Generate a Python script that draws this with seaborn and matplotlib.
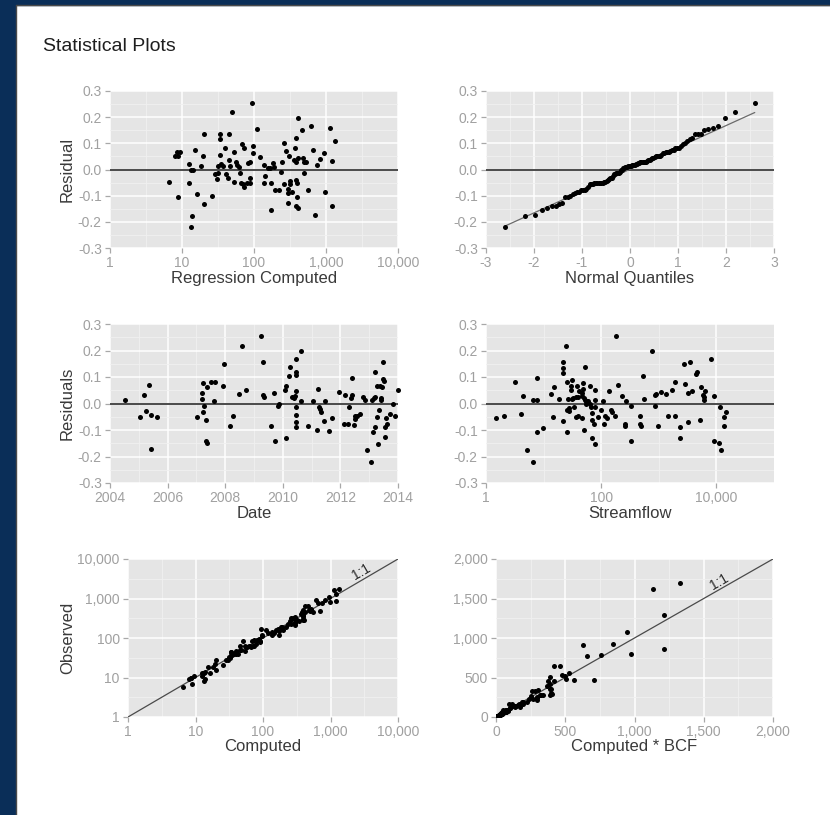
import numpy as np
import pandas as pd
import matplotlib
matplotlib.use("Agg")
import matplotlib.pyplot as plt
import seaborn as sns
from matplotlib.ticker import FixedLocator, FixedFormatter, NullFormatter
from matplotlib.patches import Rectangle
from matplotlib.lines import Line2D
from statistics import NormalDist

# ---------------- data ----------------
# Panel 1: log10(regression computed) and residuals
computed_log10 = [
    0.815, 0.907, 0.94, 0.93, 0.977, 0.944, 1.093, 1.093, 1.125, 1.148,
    1.139, 1.12, 1.185, 1.208, 1.264, 1.292, 1.31, 1.31, 1.412, 1.458,
    1.486, 1.505, 1.523, 1.523, 1.523, 1.495, 1.546, 1.569, 1.597, 1.606,
    1.634, 1.657, 1.657, 1.671, 1.699, 1.727, 1.727, 1.75, 1.764, 1.787,
    1.801, 1.819, 1.833, 1.847, 1.866, 1.866, 1.903, 1.917, 1.94, 1.949,
    1.949, 1.977, 1.986, 1.986, 2.046, 2.079, 2.134, 2.157, 2.134, 2.19,
    2.218, 2.236, 2.236, 2.264, 2.282, 2.292, 2.347, 2.375, 2.394, 2.412,
    2.417, 2.44, 2.468, 2.468, 2.481, 2.495, 2.505, 2.468, 2.528, 2.56,
    2.574, 2.588, 2.616, 2.588, 2.588, 2.597, 2.597, 2.588, 2.606, 2.616,
    2.662, 2.676, 2.69, 2.699, 2.718, 2.745, 2.792, 2.815, 2.847, 2.875,
    2.921, 2.972, 2.986, 3.051, 3.079, 3.079, 3.12]
residual = [
    -0.046, 0.051, 0.051, 0.066, 0.066, -0.106, 0.022, -0.05, -0.001, -0.001,
    -0.177, -0.221, 0.074, -0.093, 0.014, 0.051, 0.137, -0.132, -0.102, -0.018,
    -0.038, -0.013, 0.055, 0.115, 0.134, 0.014, 0.022, 0.014, 0.083, -0.019,
    -0.032, 0.134, 0.036, 0.013, 0.218, 0.066, -0.048, 0.028, 0.019, 0.009,
    -0.013, -0.051, 0.098, -0.057, -0.065, 0.083, -0.053, 0.024, 0.029, -0.032,
    -0.053, 0.253, 0.089, 0.062, 0.154, 0.047, 0.018, -0.025, -0.05, 0.006,
    0.006, -0.051, -0.154, 0.024, 0.009, -0.08, -0.08, -0.009, 0.028, 0.1,
    -0.057, 0.07, -0.073, -0.088, 0.051, -0.045, -0.057, -0.128, -0.085, 0.037,
    0.083, 0.121, 0.197, 0.029, -0.041, -0.051, -0.106, -0.141, -0.149, 0.045,
    0.15, 0.045, 0.029, -0.015, 0.028, -0.078, 0.165, 0.074, -0.173, 0.018,
    0.042, 0.062, -0.085, 0.158, 0.033, -0.141, 0.109]

# Panel 2: fitted reference line of the normal Q-Q plot
qq_line_slope = 0.0834
qq_line_intercept = 0.001

# Panel 3: sample date (decimal year) and residuals
date_year = [
    2004.53, 2005.05, 2005.18, 2005.24, 2005.34, 2005.41, 2005.41, 2005.63, 2007.01, 2007.19,
    2007.19, 2007.23, 2007.26, 2007.23, 2007.33, 2007.38, 2007.33, 2007.38, 2007.52, 2007.66,
    2007.62, 2007.93, 2007.96, 2008.16, 2008.28, 2008.49, 2008.57, 2008.72, 2009.25, 2009.30,
    2009.33, 2009.32, 2009.58, 2009.69, 2009.72, 2009.83, 2009.88, 2010.06, 2010.10, 2010.12,
    2010.20, 2010.26, 2010.32, 2010.39, 2010.43, 2010.46, 2010.46, 2010.46, 2010.46, 2010.46,
    2010.46, 2010.46, 2010.46, 2010.62, 2010.63, 2010.87, 2011.06, 2011.19, 2011.21, 2011.24,
    2011.29, 2011.34, 2011.43, 2011.47, 2011.60, 2011.71, 2011.96, 2012.15, 2012.12, 2012.26,
    2012.31, 2012.38, 2012.42, 2012.40, 2012.47, 2012.49, 2012.52, 2012.56, 2012.68, 2012.79,
    2012.86, 2012.94, 2013.05, 2013.09, 2013.16, 2013.21, 2013.19, 2013.14, 2013.21, 2013.26,
    2013.37, 2013.28, 2013.31, 2013.35, 2013.40, 2013.40, 2013.49, 2013.47, 2013.53, 2013.44,
    2013.57, 2013.56, 2013.56, 2013.63, 2013.72, 2013.81, 2013.88, 2013.99]
date_residual = [
    0.014, -0.050, 0.031, -0.028, 0.071, -0.045, -0.172, -0.050, -0.050, 0.041,
    0.018, 0.076, -0.008, -0.033, -0.061, 0.064, -0.140, -0.148, 0.083, 0.083,
    0.010, 0.066, 0.150, -0.085, -0.046, 0.034, 0.218, 0.051, 0.254, 0.031,
    0.025, 0.158, -0.085, 0.038, -0.140, -0.010, -0.003, 0.051, 0.066, -0.132,
    0.102, 0.139, 0.025, 0.020, 0.028, 0.167, 0.120, 0.109, 0.047, -0.014,
    -0.042, -0.070, -0.087, 0.198, 0.011, -0.085, 0.010, -0.099, 0.055, -0.015,
    -0.020, -0.031, -0.065, 0.010, -0.104, -0.053, 0.043, 0.033, -0.076, -0.076,
    -0.013, 0.020, 0.031, 0.098, -0.081, -0.057, -0.048, -0.046, -0.038, 0.025,
    0.015, -0.176, -0.220, 0.015, 0.020, 0.024, 0.117, -0.106, -0.089, 0.066,
    0.066, -0.050, -0.153, -0.024, 0.020, 0.013, 0.155, 0.092, 0.084, 0.064,
    -0.053, -0.089, -0.128, -0.076, -0.038, 0.000, -0.046, 0.051]

# Panel 4: log10(streamflow) and residuals
streamflow_log10 = [
    0.174, 0.319, 0.504, 0.609, 0.649, 0.719, 0.812, 0.812, 0.881, 0.881,
    0.887, 0.986, 1.136, 1.159, 1.183, 1.264, 1.333, 1.339, 1.339, 1.339,
    1.391, 1.409, 1.409, 1.420, 1.414, 1.438, 1.449, 1.478, 1.478, 1.490,
    1.496, 1.519, 1.554, 1.600, 1.525, 1.565, 1.600, 1.658, 1.577, 1.623,
    1.658, 1.681, 1.687, 1.716, 1.670, 1.693, 1.716, 1.739, 1.774, 1.699,
    1.739, 1.797, 1.797, 1.826, 1.832, 1.832, 1.867, 1.832, 1.884, 1.901,
    1.901, 1.901, 1.936, 1.988, 2.023, 2.041, 2.064, 2.099, 2.133, 2.168,
    2.191, 2.232, 2.261, 2.284, 2.354, 2.406, 2.417, 2.435, 2.516, 2.516,
    2.667, 2.672, 2.696, 2.725, 2.736, 2.881, 2.933, 2.945, 2.933, 2.986,
    3.043, 3.119, 3.165, 3.223, 3.275, 3.281, 3.362, 3.368, 3.438, 3.461,
    3.513, 3.513, 3.536, 3.583, 3.641, 3.664, 3.710, 3.728, 3.768, 3.780,
    3.791, 3.803, 3.913, 3.965, 3.965, 4.046, 4.075, 4.06, 4.13, 4.16,
    4.14]
flow_residual = [
    -0.053, -0.046, 0.083, -0.038, 0.027, -0.177, -0.220, 0.014, 0.014, 0.098,
    -0.106, -0.093, 0.034, -0.050, 0.062, 0.018, -0.065, 0.155, 0.135, 0.115,
    0.218, 0.083, -0.106, 0.018, -0.023, -0.028, -0.017, 0.066, 0.051, 0.089,
    0.018, 0.020, 0.023, 0.025, -0.013, -0.051, -0.048, -0.053, 0.066, 0.047,
    0.038, 0.053, 0.076, 0.137, 0.028, 0.020, 0.015, 0.010, 0.008, -0.101,
    0.000, 0.000, 0.066, -0.015, -0.036, -0.061, -0.076, -0.131, -0.013, 0.051,
    0.015, -0.153, -0.051, -0.023, 0.011, -0.076, -0.048, -0.056, 0.047, -0.025,
    -0.033, -0.048, 0.254, 0.071, 0.027, -0.076, -0.084, 0.009, -0.008, -0.140,
    -0.046, -0.076, -0.084, 0.102, 0.018, 0.198, 0.031, 0.036, -0.009, -0.085,
    0.043, 0.034, -0.046, 0.051, 0.083, -0.046, -0.089, -0.130, 0.150, 0.075,
    0.038, -0.069, 0.158, 0.047, 0.111, 0.120, -0.061, 0.064, 0.033, 0.015,
    0.025, 0.047, 0.167, 0.027, -0.140, -0.148, -0.177, -0.014, -0.052, -0.033,
    -0.085]

# Panel 6: bias correction factor
bcf = 1.01

# axis ticks / limits
resid_ticks = [-0.3, -0.2, -0.1, 0.0, 0.1, 0.2, 0.3]
resid_labels = ["-0.3", "-0.2", "-0.1", "0.0", "0.1", "0.2", "0.3"]
log_ticks = [1, 10, 100, 1000, 10000]
log_labels = ["1", "10", "100", "1,000", "10,000"]
qq_ticks = [-3, -2, -1, 0, 1, 2, 3]
qq_labels = ["-3", "-2", "-1", "0", "1", "2", "3"]
year_ticks = [2004, 2006, 2008, 2010, 2012, 2014]
year_labels = ["2004", "2006", "2008", "2010", "2012", "2014"]
flow_ticks = [1, 100, 10000, 1000000]
flow_labels = ["1", "100", "10,000", "1,000,000"]
flow_limits = [1, 100000]
lin_ticks = [0, 500, 1000, 1500, 2000]
lin_labels = ["0", "500", "1,000", "1,500", "2,000"]
one_to_one_log = [1, 10000]
one_to_one_lin = [0, 2000]

# ---------------- derived tables ----------------
p1 = pd.DataFrame({"computed": 10 ** np.array(computed_log10), "residual": residual})
p1["observed"] = p1["computed"] * 10 ** p1["residual"]
p1["computed_bcf"] = p1["computed"] * bcf
qq = pd.DataFrame({"sample": np.sort(np.array(residual))})
n = len(qq)
qq["theoretical"] = [NormalDist().inv_cdf((i + 0.5) / n) for i in range(n)]
p3 = pd.DataFrame({"date": date_year, "residual": date_residual})
p4 = pd.DataFrame({"flow": 10 ** np.array(streamflow_log10), "residual": flow_residual})

# ---------------- styling ----------------
sns.set_theme(style="darkgrid")
plt.rcParams["font.family"] = ["Liberation Sans", "DejaVu Sans"]
plt.rcParams["axes.unicode_minus"] = False

W, H = 830, 815
fig = plt.figure(figsize=(W / 100, H / 100), dpi=100)
fig.patch.set_facecolor("white")

PANEL = "#E5E5E5"
TICKLAB = "#A0A0A0"
TITLECOL = "#3A3A3A"
LINECOL = "#4A4A4A"


def make_ax(l, r, t, b):
    return fig.add_axes([l / W, 1 - b / H, (r - l) / W, (b - t) / H])


def style(ax, xmaj, xlab, xmin, ymaj, ylab, ymin, xlim, ylim, xlog=False, ylog=False):
    if xlog:
        ax.set_xscale("log")
    if ylog:
        ax.set_yscale("log")
    ax.set_xlim(*xlim)
    ax.set_ylim(*ylim)
    ax.xaxis.set_major_locator(FixedLocator(xmaj))
    ax.xaxis.set_major_formatter(FixedFormatter(xlab))
    ax.xaxis.set_minor_locator(FixedLocator(xmin))
    ax.xaxis.set_minor_formatter(NullFormatter())
    ax.yaxis.set_major_locator(FixedLocator(ymaj))
    ax.yaxis.set_major_formatter(FixedFormatter(ylab))
    ax.yaxis.set_minor_locator(FixedLocator(ymin))
    ax.yaxis.set_minor_formatter(NullFormatter())
    ax.set_facecolor(PANEL)
    for s in ax.spines.values():
        s.set_visible(False)
    ax.grid(True, which="major", color="white", linewidth=1.1)
    ax.grid(True, which="minor", color="#F0F0F0", linewidth=0.6)
    ax.set_axisbelow(True)
    ax.tick_params(which="major", bottom=True, left=True, length=3.6, width=0.9,
                   color="#A8A8A8", labelcolor=TICKLAB, labelsize=10, pad=2.3)
    ax.tick_params(which="minor", length=0)


def half_decades(lo, hi):
    return [10 ** (k + 0.5) for k in range(lo, hi)]


def xlabel(ax, text, hpx):
    ax.set_xlabel(text, fontsize=12, color=TITLECOL)
    ax.xaxis.set_label_coords(0.5, -22.5 / hpx)


def ylabel(ax, text, off_px, wpx):
    ax.set_ylabel(text, fontsize=12, color=TITLECOL)
    ax.yaxis.set_label_coords(-off_px / wpx, 0.5)


resid_minor = [-0.25, -0.15, -0.05, 0.05, 0.15, 0.25]
dot = dict(color="black", s=13, linewidth=0, legend=False, zorder=3)

# Panel 1
ax1 = make_ax(110, 398, 91, 248)
style(ax1, log_ticks, log_labels, half_decades(0, 4), resid_ticks, resid_labels, resid_minor,
      (1, 10000), (-0.3, 0.3), xlog=True)
ax1.axhline(0, color=LINECOL, lw=1.4, zorder=2)
sns.scatterplot(data=p1, x="computed", y="residual", ax=ax1, **dot)
xlabel(ax1, "Regression Computed", 157)
ylabel(ax1, "Residual", 35, 288)

# Panel 2
ax2 = make_ax(486, 774, 91, 248)
style(ax2, qq_ticks, qq_labels, [-2.5, -1.5, -0.5, 0.5, 1.5, 2.5], resid_ticks, resid_labels,
      resid_minor, (-3, 3), (-0.3, 0.3))
ax2.axhline(0, color=LINECOL, lw=1.4, zorder=2)
qx = np.array([qq["theoretical"].min(), qq["theoretical"].max()])
sns.lineplot(x=qx, y=qq_line_intercept + qq_line_slope * qx, ax=ax2, color="#6A6A6A", lw=0.9, zorder=2)
sns.scatterplot(data=qq, x="theoretical", y="sample", ax=ax2, **dot)
xlabel(ax2, "Normal Quantiles", 157)
ax2.set_ylabel("")

# Panel 3
ax3 = make_ax(110, 398, 324, 483)
style(ax3, year_ticks, year_labels, [2005, 2007, 2009, 2011, 2013], resid_ticks, resid_labels,
      resid_minor, (2004, 2014), (-0.3, 0.3))
ax3.axhline(0, color=LINECOL, lw=1.4, zorder=2)
sns.scatterplot(data=p3, x="date", y="residual", ax=ax3, clip_on=False, **dot)
xlabel(ax3, "Date", 159)
ylabel(ax3, "Residuals", 35, 288)

# Panel 4
ax4 = make_ax(486, 774, 324, 483)
style(ax4, flow_ticks, flow_labels, [10, 1000, 100000], resid_ticks, resid_labels,
      resid_minor, tuple(flow_limits), (-0.3, 0.3), xlog=True)
ax4.axhline(0, color=LINECOL, lw=1.4, zorder=2)
sns.scatterplot(data=p4, x="flow", y="residual", ax=ax4, **dot)
xlabel(ax4, "Streamflow", 159)
ax4.set_ylabel("")

# Panel 5
ax5 = make_ax(128, 398, 559, 717)
style(ax5, log_ticks, log_labels, half_decades(0, 4), log_ticks, log_labels, half_decades(0, 4),
      (1, 10000), (1, 10000), xlog=True, ylog=True)
sns.lineplot(x=one_to_one_log, y=one_to_one_log, ax=ax5, color=LINECOL, lw=0.9, zorder=2)
sns.scatterplot(data=p1, x="computed", y="observed", ax=ax5, **dot)
ax5.text(2900, 4700, "1:1", rotation=30, ha="center", va="center", fontsize=10, color="#2A2A2A")
xlabel(ax5, "Computed", 158)
ylabel(ax5, "Observed", 53, 270)

# Panel 6
ax6 = make_ax(496, 773, 559, 717)
style(ax6, lin_ticks, lin_labels, [250, 750, 1250, 1750], lin_ticks, lin_labels, [250, 750, 1250, 1750],
      (0, 2000), (0, 2000))
sns.lineplot(x=one_to_one_lin, y=one_to_one_lin, ax=ax6, color=LINECOL, lw=0.9, zorder=2)
sns.scatterplot(data=p1, x="computed_bcf", y="observed", ax=ax6, **dot)
ax6.text(1610, 1710, "1:1", rotation=30, ha="center", va="center", fontsize=10, color="#2A2A2A")
xlabel(ax6, "Computed * BCF", 158)
ax6.set_ylabel("")

for ax in (ax1, ax2, ax3, ax4, ax5, ax6):
    leg = ax.get_legend()
    if leg is not None:
        leg.remove()

# Title
fig.text(43 / W, 1 - 46.5 / H, "Statistical Plots", fontsize=14, ha="left", va="center",
         color="#1E1E1E", family=["Liberation Sans Narrow", "Liberation Sans", "DejaVu Sans"])

# Navy frame on the left and top
NAVY = "#0A2E58"
fig.patches.append(Rectangle((0, 0), 15 / W, 1, transform=fig.transFigure, color=NAVY, zorder=0))
fig.patches.append(Rectangle((0, 1 - 4.5 / H), 1, 4.5 / H, transform=fig.transFigure, color=NAVY, zorder=0))
fig.lines.append(Line2D([15.5 / W, 15.5 / W], [0, 1 - 4.5 / H], transform=fig.transFigure,
                        color="#4A4A4A", lw=1.0))
fig.lines.append(Line2D([15.5 / W, 1], [1 - 5 / H, 1 - 5 / H], transform=fig.transFigure,
                        color="#4A4A4A", lw=1.0))

fig.savefig("out.png", dpi=100)
